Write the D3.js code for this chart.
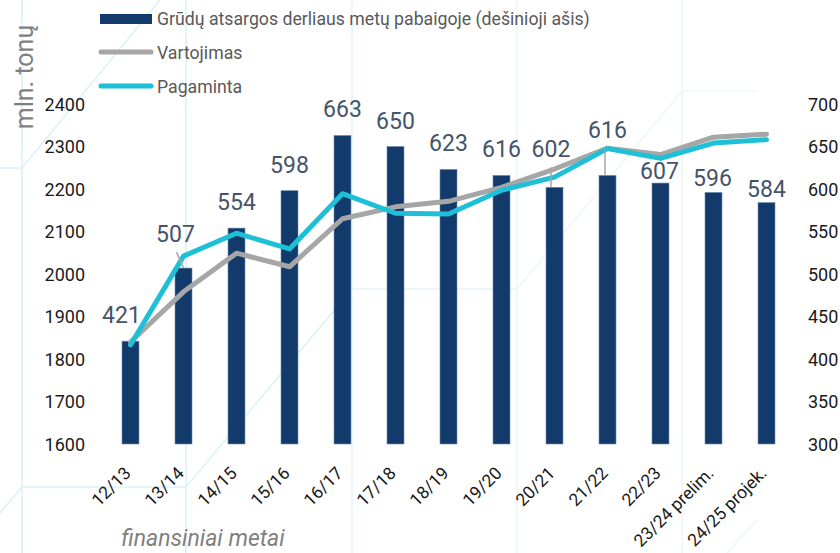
<!DOCTYPE html>
<html>
<head>
<meta charset="utf-8">
<script src="https://cdn.jsdelivr.net/npm/d3@7"></script>
<style>
  html, body { margin: 0; padding: 0; background: #ffffff; }
  svg { display: block; font-family: Roboto, "Noto Sans", sans-serif; }
</style>
</head>
<body>
<svg id="chart" width="840" height="553"></svg>
<script>
// ---- data ----
const categories = ["12/13","13/14","14/15","15/16","16/17","17/18","18/19","19/20","20/21","21/22","22/23","23/24 prelim.","24/25 projek."];
const atsargos   = [421, 507, 554, 598, 663, 650, 623, 616, 602, 616, 607, 596, 584];   // right axis
const vartojimas = [1840, 1958, 2049, 2017, 2130, 2158, 2171, 2204, 2247, 2296, 2281, 2322, 2329];
const pagaminta  = [1833, 2042, 2096, 2059, 2189, 2143, 2141, 2197, 2228, 2295, 2272, 2308, 2316];
const leftTicks  = [1600, 1700, 1800, 1900, 2000, 2100, 2200, 2300, 2400];
const rightTicks = [300, 350, 400, 450, 500, 550, 600, 650, 700];
const seriesNames = ["Grūdų atsargos derliaus metų pabaigoje (dešinioji ašis)", "Vartojimas", "Pagaminta"];
const yTitle = "mln. tonų";
const xTitle = "finansiniai metai";

// ---- label layout (offsets from default position above bar) ----
const labelShift = [[-9,0],[-8,-8],[0,0],[0,0],[0,0],[0,0],[0,0],[0,0],[-3.5,-12.5],[0,-19.5],[-1,13.5],[-1,11.5],[0,12]];
const leaders = {1:[-7,-16,0,0], 8:[-3.5,-20,-3.5,0], 9:[-2.5,-26,-2.5,0]};

const svg = d3.select("#chart");
const plotL = 104, plotR = 793, plotT = 104, plotB = 444;

// ---- background decoration ----
const deco = svg.append("g").attr("fill", "none");
[["M22,0V553M0,168H22M22,168L160,0M186,0V553M0,513L22,487H186L352,289", "#dcf2f8"],
 ["M352,0V553M352,289H517", "#e6f4f7"],
 ["M517,0V553M517,289L682,91H757M682,0V553M727,553L757,520", "#eff7f7"]]
 .forEach(([d, c]) => deco.append("path").attr("d", d).attr("stroke", c).attr("stroke-width", 1.6));

// ---- scales ----
const x = d3.scaleBand().domain(categories).range([plotL, plotR]).padding(0);
const yL = d3.scaleLinear().domain([1600, 2400]).range([plotB, plotT]);
const yR = d3.scaleLinear().domain([300, 700]).range([plotB, plotT]);
const cx = c => x(c) + x.bandwidth() / 2;
const barW = 17;

// ---- axes ----
const axL = svg.append("g").attr("transform", `translate(${plotL - 19},0)`)
  .call(d3.axisLeft(yL).tickValues(leftTicks).tickSize(0).tickPadding(0).tickFormat(d3.format("d")));
axL.select(".domain").remove();
axL.selectAll("text").attr("font-size", 18).attr("fill", "#1a1a1a").attr("font-family", "Roboto").attr("dy", "0.36em");

const axR = svg.append("g").attr("transform", `translate(${plotR + 15},0)`)
  .call(d3.axisRight(yR).tickValues(rightTicks).tickSize(0).tickPadding(0).tickFormat(d3.format("d")));
axR.select(".domain").remove();
axR.selectAll("text").attr("font-size", 18).attr("fill", "#1a1a1a").attr("font-family", "Roboto").attr("dy", "0.36em");

const axB = svg.append("g").attr("transform", `translate(0,${plotB})`)
  .call(d3.axisBottom(x).tickSize(0).tickPadding(0));
axB.select(".domain").remove();
axB.selectAll("text")
  .attr("font-size", 17.5).attr("fill", "#1a1a1a").attr("font-family", "Roboto")
  .attr("text-anchor", "end")
  .attr("transform", "translate(-3,26) rotate(-45)")
  .attr("dy", "0.35em").attr("y", 0);

// ---- bars ----
svg.append("g").selectAll("rect").data(atsargos).join("rect")
  .attr("x", (d, i) => cx(categories[i]) - barW / 2)
  .attr("width", barW)
  .attr("y", d => yR(d))
  .attr("height", d => yR(300) - yR(d))
  .attr("fill", "#123a6b")
  .attr("stroke", "#6f8db0").attr("stroke-width", 0.6);

// ---- lines ----
const lineL = d3.line().x((d, i) => cx(categories[i])).y(d => yL(d));
svg.append("path").datum(vartojimas).attr("d", lineL)
  .attr("fill", "none").attr("stroke", "#a6a6a6").attr("stroke-width", 5)
  .attr("stroke-linejoin", "round").attr("stroke-linecap", "round");
svg.append("path").datum(pagaminta).attr("d", lineL)
  .attr("fill", "none").attr("stroke", "#1ec0d8").attr("stroke-width", 5)
  .attr("stroke-linejoin", "round").attr("stroke-linecap", "round");

// ---- leader lines ----
Object.entries(leaders).forEach(([i, l]) => {
  const bx = cx(categories[i]), by = yR(atsargos[i]);
  svg.append("line").attr("x1", bx + l[0]).attr("y1", by + l[1]).attr("x2", bx + l[2]).attr("y2", by + l[3])
    .attr("stroke", "#a6a6a6").attr("stroke-width", 1.5);
});

// ---- data labels ----
svg.append("g").selectAll("text").data(atsargos).join("text")
  .attr("x", (d, i) => cx(categories[i]) + labelShift[i][0])
  .attr("y", (d, i) => yR(d) - 18 + labelShift[i][1])
  .attr("text-anchor", "middle")
  .attr("font-size", 23).attr("fill", "#44546a")
  .text(d => d);

// ---- axis titles ----
svg.append("text").attr("transform", "translate(33,77) rotate(-90)")
  .attr("text-anchor", "middle").attr("font-size", 25).attr("fill", "#7f7f7f").text(yTitle);
svg.append("text").attr("x", 203).attr("y", 546).attr("text-anchor", "middle")
  .attr("font-size", 23).attr("font-style", "italic").attr("fill", "#7f7f7f").text(xTitle);

// ---- legend ----
const lg = svg.append("g");
lg.append("rect").attr("x", 100).attr("y", 14).attr("width", 52).attr("height", 10).attr("fill", "#123a6b");
lg.append("line").attr("x1", 101).attr("x2", 151).attr("y1", 52).attr("y2", 52)
  .attr("stroke", "#a6a6a6").attr("stroke-width", 5).attr("stroke-linecap", "round");
lg.append("line").attr("x1", 101).attr("x2", 151).attr("y1", 86).attr("y2", 86)
  .attr("stroke", "#1ec0d8").attr("stroke-width", 5).attr("stroke-linecap", "round");
[25, 59, 93].forEach((yy, i) => lg.append("text").attr("x", 157).attr("y", yy)
  .attr("font-size", 17.7).attr("fill", "#595959").text(seriesNames[i]));
</script>
</body>
</html>
